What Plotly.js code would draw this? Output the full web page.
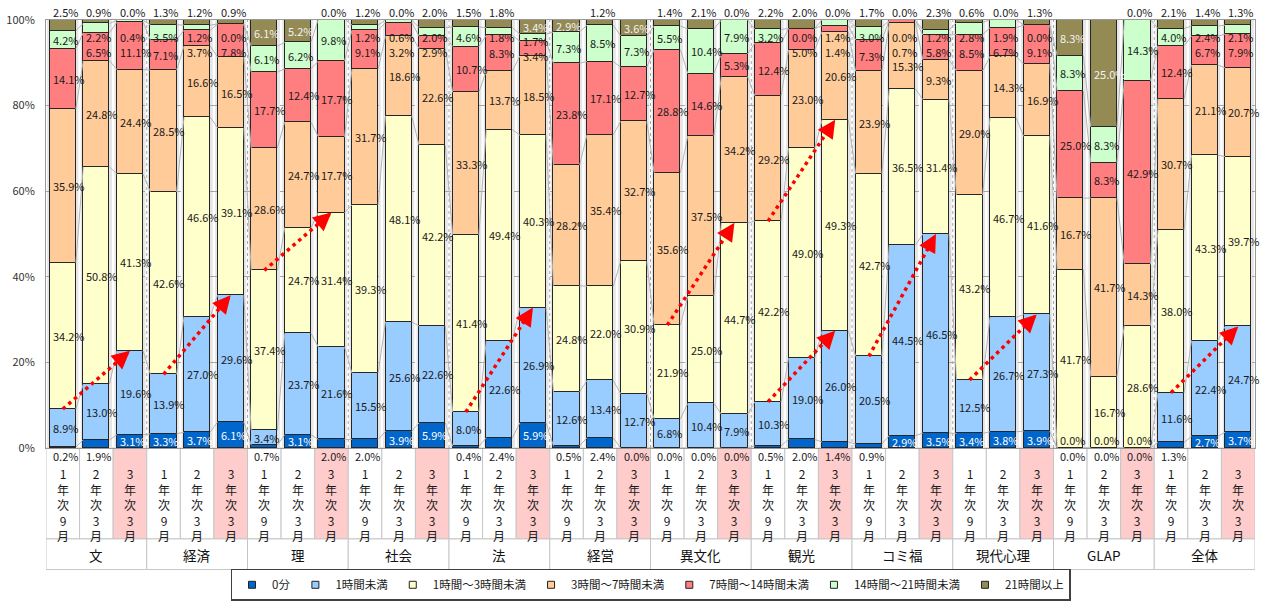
<!DOCTYPE html>
<html>
<head>
<meta charset="utf-8">
<script src="https://cdn.plot.ly/plotly-3.0.1.min.js"></script>
<style>
  html, body { margin: 0; padding: 0; background: #ffffff; }
  #chart { width: 1264px; height: 610px; }
</style>
</head>
<body>
<div id="chart"></div>
<script>
// 学部 × 調査時期ごとの週あたり学習時間の分布（%）
const faculties = ['文', '経済', '理', '社会', '法', '経営', '異文化', '観光', 'コミ福', '現代心理', 'GLAP', '全体'];
const terms = ['1年次9月', '2年次3月', '3年次3月'];
const seriesNames = ['0分', '1時間未満', '1時間～3時間未満', '3時間～7時間未満', '7時間～14時間未満', '14時間～21時間未満', '21時間以上'];

// 各系列の値：学部順に 1年次9月・2年次3月・3年次3月
const min0     = [0.2, 1.9, 3.1,  3.3, 3.7, 6.1,  0.7, 3.1, 2.0,  2.0, 3.9, 5.9,  0.4, 2.4, 5.9,  0.5, 2.4, 0.0,  0.0, 0.0, 0.0,  0.5, 2.0, 1.4,  0.9, 2.9, 3.5,  3.4, 3.8, 3.9,  0.0, 0.0, 0.0,  1.3, 2.7, 3.7];
const under1h  = [8.9, 13.0, 19.6,  13.9, 27.0, 29.6,  3.4, 23.7, 21.6,  15.5, 25.6, 22.6,  8.0, 22.6, 26.9,  12.6, 13.4, 12.7,  6.8, 10.4, 7.9,  10.3, 19.0, 26.0,  20.5, 44.5, 46.5,  12.5, 26.7, 27.3,  0.0, 0.0, 0.0,  11.6, 22.4, 24.7];
const h1to3    = [34.2, 50.8, 41.3,  42.6, 46.6, 39.1,  37.4, 24.7, 31.4,  39.3, 48.1, 42.2,  41.4, 49.4, 40.3,  24.8, 22.0, 30.9,  21.9, 25.0, 44.7,  42.2, 49.0, 49.3,  42.7, 36.5, 31.4,  43.2, 46.7, 41.6,  41.7, 16.7, 28.6,  38.0, 43.3, 39.7];
const h3to7    = [35.9, 24.8, 24.4,  28.5, 16.6, 16.5,  28.6, 24.7, 17.7,  31.7, 18.6, 22.6,  33.3, 13.7, 18.5,  28.2, 35.4, 32.7,  35.6, 37.5, 34.2,  29.2, 23.0, 20.6,  23.9, 15.3, 9.3,  29.0, 14.3, 16.9,  16.7, 41.7, 14.3,  30.7, 21.1, 20.7];
const h7to14   = [14.1, 6.5, 11.1,  7.1, 3.7, 7.8,  17.7, 12.4, 17.7,  9.1, 3.2, 2.9,  10.7, 8.3, 3.4,  23.8, 17.1, 12.7,  28.8, 14.6, 5.3,  12.4, 5.0, 1.4,  7.3, 0.7, 5.8,  8.5, 6.7, 9.1,  25.0, 8.3, 42.9,  12.4, 6.7, 7.9];
const h14to21  = [4.2, 2.2, 0.4,  3.5, 1.2, 0.0,  6.1, 6.2, 9.8,  1.2, 0.6, 2.0,  4.6, 1.8, 1.7,  7.3, 8.5, 7.3,  5.5, 10.4, 7.9,  3.2, 0.0, 1.4,  3.0, 0.0, 1.2,  2.8, 1.9, 0.0,  8.3, 8.3, 14.3,  4.0, 2.4, 2.1];
const h21plus  = [2.5, 0.9, 0.0,  1.3, 1.2, 0.9,  6.1, 5.2, 0.0,  1.2, 0.0, 2.0,  1.5, 1.8, 3.4,  2.9, 1.2, 3.6,  1.4, 2.1, 0.0,  2.2, 2.0, 0.0,  1.7, 0.0, 2.3,  0.6, 0.0, 1.3,  8.3, 25.0, 0.0,  2.1, 1.4, 1.3];

// 1年次9月 → 3年次3月 の変化を示す矢印（どの系列の上端までを結ぶか）
const arrowFaculty = ['文', '経済', '理', '法', '異文化', '観光', '観光', 'コミ福', '現代心理', '全体'];
const arrowUpTo    = ['1時間未満', '1時間未満', '1時間～3時間未満', '1時間未満', '1時間～3時間未満', '1時間未満', '1時間～3時間未満', '1時間未満', '1時間未満', '1時間未満'];

const colors = ['#0066CC', '#99CCFF', '#FFFFCC', '#FFCC99', '#FF7F80', '#CCFFCC', '#948A54'];
const series = [min0, under1h, h1to3, h3to7, h7to14, h14to21, h21plus];

const FONT = '"Noto Sans CJK JP", "Noto Sans", sans-serif';
const nBars = faculties.length * terms.length;
const barX = Array.from({ length: nBars }, (_, i) => i);
const BAR_W = 0.78;

// cumulative stack boundaries per bar
const cum = barX.map(i => {
  const c = [0];
  series.forEach((s, k) => c.push(c[k] + s[i]));
  return c;
});

const traces = [];

// thin series lines joining segment boundaries of neighbouring bars
const lx = [], ly = [];
for (let k = 1; k <= 6; k++) {
  for (let i = 0; i < nBars - 1; i++) {
    lx.push(i + BAR_W / 2, i + 1 - BAR_W / 2, null);
    ly.push(cum[i][k], cum[i + 1][k], null);
  }
}
traces.push({
  type: 'scatter', mode: 'lines', x: lx, y: ly,
  line: { color: '#B4B4B4', width: 1 }, hoverinfo: 'skip', showlegend: false
});

series.forEach((vals, k) => {
  traces.push({
    type: 'bar', x: barX, y: vals, width: BAR_W, name: seriesNames[k],
    legendgroup: seriesNames[k], showlegend: false,
    marker: { color: colors[k], line: { color: '#262626', width: 1 } },
    hovertemplate: seriesNames[k] + ': %{y:.1f}%<extra></extra>'
  });
});

// small square legend keys
series.forEach((vals, k) => {
  traces.push({
    type: 'scatter', mode: 'markers', x: [null], y: [null], name: seriesNames[k],
    legendgroup: seriesNames[k], showlegend: true, hoverinfo: 'skip',
    marker: { symbol: 'square', size: 7, color: colors[k], line: { color: '#222', width: 1 } }
  });
});

const annotations = [];
const shapes = [];
const fmt = v => v.toFixed(1) + '%';
const GAP = 3.4;

barX.forEach(i => {
  const c = cum[i];
  const pos = series.map((s, k) => (c[k] + c[k + 1]) / 2);
  const zeroInside = min0[i] >= 2.5;
  const topInside = h21plus[i] > 2.5;
  const last = topInside ? 6 : 5;

  // keep stacked labels apart: push down from the top, then up from the bottom
  let cap = topInside ? 99 : 96;
  for (let k = last; k >= 1; k--) { pos[k] = Math.min(pos[k], cap); cap = pos[k] - GAP; }
  let floor = zeroInside ? pos[0] + GAP : 1.8;
  for (let k = 1; k <= last; k++) { if (pos[k] < floor) pos[k] = floor; floor = pos[k] + GAP; }

  const left = i - BAR_W / 2;
  series.forEach((s, k) => {
    const a = {
      x: left, xref: 'x', xanchor: 'left', xshift: 1, showarrow: false,
      text: fmt(s[i]), font: { family: FONT, size: 11, color: '#1A1A1A' }
    };
    if (k === 0) {
      if (zeroInside) { a.y = pos[0]; a.yref = 'y'; a.font.color = '#FFFFFF'; }
      else { a.y = 0; a.yref = 'y'; a.yanchor = 'top'; a.yshift = 2; }
    } else if (k === 6) {
      if (topInside) { a.y = pos[6]; a.yref = 'y'; a.font.color = '#F2F2F2'; }
      else { a.y = 100; a.yref = 'y'; a.yanchor = 'bottom'; a.yshift = -2; }
    } else {
      a.y = pos[k]; a.yref = 'y';
    }
    annotations.push(a);
  });

  // soft shadow behind each bar
  shapes.push({
    type: 'rect', xref: 'x', yref: 'y', x0: i - 0.465, x1: i + 0.465, y0: 0, y1: 100,
    fillcolor: '#E6E6E6', line: { width: 0 }, layer: 'below'
  });

  // term label cell under each bar
  const t = i % 3;
  shapes.push({
    type: 'rect', xref: 'x', yref: 'paper', x0: i - 0.5, x1: i + 0.5, y0: -0.2125, y1: 0,
    fillcolor: t === 2 ? '#FFCCCC' : '#FFFFFF', line: { color: '#C6C6C6', width: 1 }, layer: 'below'
  });
  annotations.push({
    x: i, xref: 'x', y: -0.036, yref: 'paper', yanchor: 'top', showarrow: false,
    text: Array.from(terms[t]).join('<br>'),
    font: { family: FONT, size: 12, color: '#1A1A1A' }
  });
});

// faculty cells and dotted separators between faculties
faculties.forEach((f, g) => {
  shapes.push({
    type: 'rect', xref: 'x', yref: 'paper', x0: 3 * g - 0.5, x1: 3 * g + 2.5, y0: -0.284, y1: -0.2125,
    fillcolor: '#FFFFFF', line: { color: '#C6C6C6', width: 1 }, layer: 'below'
  });
  annotations.push({
    x: 3 * g + 1, xref: 'x', y: -0.2494, yref: 'paper', yanchor: 'middle', showarrow: false,
    text: f, font: { family: FONT, size: 13.5, color: '#111111' }
  });
  if (g > 0) {
    shapes.push({
      type: 'line', xref: 'x', yref: 'y', x0: 3 * g - 0.5, x1: 3 * g - 0.5, y0: 0, y1: 100,
      line: { color: '#A8A8A8', width: 1, dash: 'dot' }, layer: 'below'
    });
  }
});

// red dotted trend arrows from the 1年次9月 bar to the 3年次3月 bar
arrowFaculty.forEach((f, j) => {
  const g = faculties.indexOf(f);
  const level = seriesNames.indexOf(arrowUpTo[j]) + 1;
  const x0 = 3 * g, x1 = 3 * g + 2;
  const y0 = cum[x0][level], y1 = cum[x1][level];
  shapes.push({
    type: 'line', xref: 'x', yref: 'y', x0: x0, y0: y0, x1: x1 - 0.06, y1: y1 - 0.06 * (y1 - y0) / 2,
    line: { color: '#FF0000', width: 3.5, dash: '3.5px,4px' }, layer: 'above'
  });
  annotations.push({
    x: x1, y: y1, xref: 'x', yref: 'y',
    ax: x1 - 0.14 * (x1 - x0), ay: y1 - 0.14 * (y1 - y0), axref: 'x', ayref: 'y',
    text: '', showarrow: true, arrowhead: 2, arrowsize: 1.2, arrowwidth: 3, arrowcolor: '#FF0000', standoff: 0
  });
});

const layout = {
  width: 1264, height: 610,
  margin: { l: 46, r: 9, t: 20, b: 157 },
  paper_bgcolor: '#FFFFFF', plot_bgcolor: '#FFFFFF',
  barmode: 'stack', bargap: 0,
  showlegend: true,
  font: { family: FONT, size: 11, color: '#222222' },
  xaxis: {
    range: [-0.5, nBars - 0.5], showgrid: false, zeroline: false, showticklabels: false,
    ticks: '', showline: true, linecolor: '#9A9A9A', linewidth: 1, mirror: true, fixedrange: true
  },
  yaxis: {
    range: [0, 100], dtick: 20, ticksuffix: '%', ticks: '', ticklabelstandoff: 8,
    tickfont: { family: FONT, size: 11, color: '#333333' },
    showgrid: true, gridcolor: '#A6A6A6', griddash: 'dash', gridwidth: 1,
    zeroline: false, showline: true, linecolor: '#9A9A9A', linewidth: 1, mirror: true, fixedrange: true
  },
  legend: {
    orientation: 'h', x: 0.5, xanchor: 'center', y: -0.357, yanchor: 'bottom',
    bordercolor: '#404040', borderwidth: 1.5, bgcolor: '#FFFFFF',
    font: { family: FONT, size: 11.5, color: '#1A1A1A' },
    traceorder: 'normal', itemwidth: 30, itemclick: false, itemdoubleclick: false
  },
  annotations: annotations,
  shapes: shapes
};

Plotly.newPlot('chart', traces, layout, { displayModeBar: false, staticPlot: false });
</script>
</body>
</html>
